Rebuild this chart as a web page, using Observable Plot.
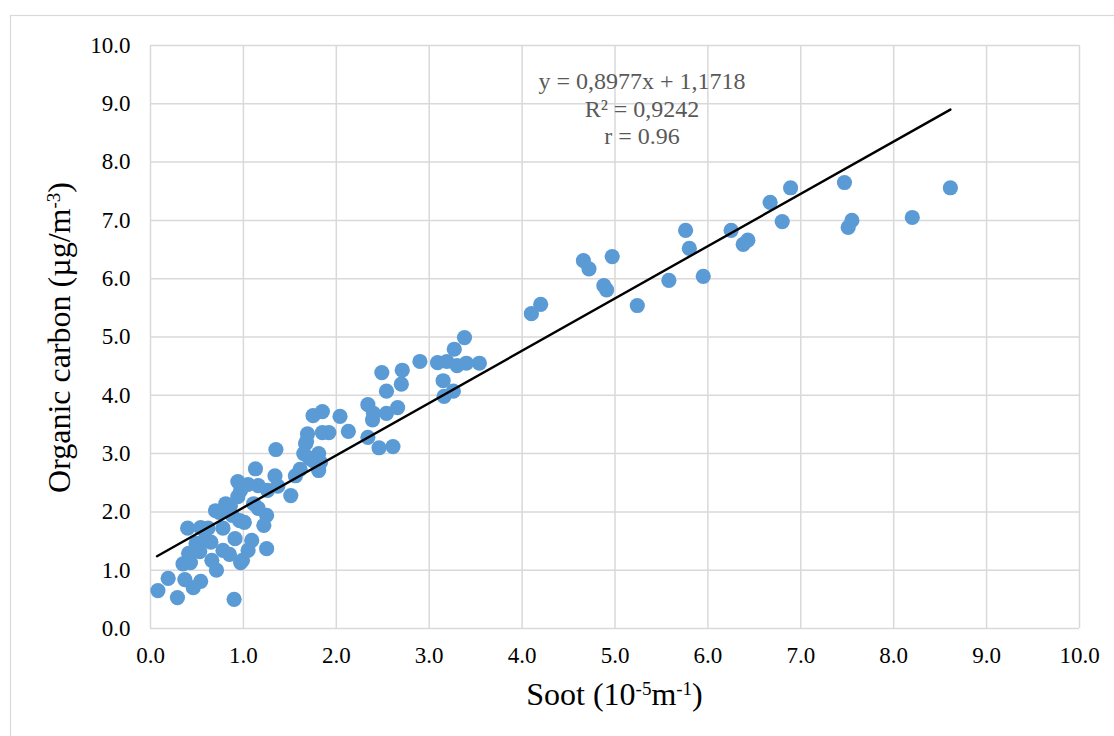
<!DOCTYPE html>
<html>
<head>
<meta charset="utf-8">
<script src="https://cdn.jsdelivr.net/npm/d3@7"></script>
<script src="https://cdn.jsdelivr.net/npm/@observablehq/plot@0.6"></script>
<style>
  html, body { margin: 0; padding: 0; background: #fff; }
</style>
</head>
<body>
<div id="chart"></div>
<script>
// Soot (10^-5 m^-1)
const soot = [
  0.08, 0.19, 0.29, 0.37, 0.46, 0.54, 0.35, 0.41, 0.43, 0.40,
  0.49, 0.53, 0.54, 0.58, 0.62, 0.65, 0.66, 0.71, 0.70, 0.74,
  0.78, 0.81, 0.78, 0.85, 0.90, 0.91, 0.94, 0.94, 0.97, 0.96,
  0.97, 0.99, 1.05, 1.01, 1.05, 1.09, 1.11, 1.13, 1.16, 1.16,
  1.22, 1.25, 1.25, 1.26, 1.34, 1.35, 1.37, 1.51, 1.56, 1.61,
  1.65, 1.67, 1.69, 1.75, 1.85, 1.85, 1.92, 1.81, 1.75, 1.81,
  1.83, 1.71, 1.68, 0.88, 0.86, 2.04, 2.13, 2.34, 2.40, 2.39,
  2.34, 2.46, 2.61, 2.49, 2.54, 2.54, 2.66, 2.70, 2.71, 2.90,
  3.09, 3.19, 3.15, 3.16, 3.26, 3.27, 3.30, 3.38, 3.40, 3.54,
  4.10, 4.20, 4.66, 4.72, 4.88, 4.91, 4.97, 5.24, 5.58, 5.76,
  5.80, 5.95, 6.25, 6.38, 6.43, 6.67, 6.80, 6.89, 7.47, 7.51,
  7.55, 8.20, 8.61
];
// Organic carbon (µg/m^-3)
const organicCarbon = [
  0.65, 0.86, 0.53, 0.84, 0.70, 0.81, 1.11, 1.29, 1.13, 1.72,
  1.46, 1.32, 1.73, 1.51, 1.72, 1.48, 1.17, 1.00, 2.02, 1.99,
  1.72, 2.14, 1.34, 1.27, 0.50, 1.54, 2.52, 2.26, 2.37, 1.85,
  1.13, 1.17, 1.34, 1.82, 2.47, 1.51, 2.14, 2.74, 2.06, 2.45,
  1.77, 1.94, 1.37, 2.37, 2.62, 3.07, 2.44, 2.28, 2.62, 2.73,
  3.00, 3.17, 3.34, 3.65, 3.72, 3.36, 3.36, 3.00, 2.88, 2.71,
  2.85, 2.92, 3.21, 1.94, 2.11, 3.64, 3.38, 3.84, 3.69, 3.58,
  3.28, 3.10, 3.12, 4.39, 4.07, 3.69, 3.79, 4.19, 4.43, 4.58,
  4.56, 4.58, 4.25, 3.98, 4.07, 4.79, 4.51, 4.99, 4.55, 4.55,
  5.40, 5.56, 6.31, 6.17, 5.88, 5.81, 6.38, 5.54, 5.97, 6.83,
  6.52, 6.04, 6.83, 6.59, 6.66, 7.31, 6.98, 7.56, 7.65, 6.88,
  7.00, 7.05, 7.56
];
// Linear trendline end points (x, y)
const trendX = [0.07, 8.61];
const trendY = [1.24, 8.90];
// Axis ticks
const xTicks = [0, 1, 2, 3, 4, 5, 6, 7, 8, 9, 10];
const yTicks = [0, 1, 2, 3, 4, 5, 6, 7, 8, 9, 10];
// Annotation
const annotationLines = ["y = 0,8977x + 1,1718", "R² = 0,9242", "r = 0.96"];

const points = soot.map((x, i) => ({x, y: organicCarbon[i]}));
const trend = trendX.map((x, i) => ({x, y: trendY[i]}));
const fmt = d => d.toFixed(1);
const font = "'Liberation Serif', 'Times New Roman', serif";

const chart = Plot.plot({
  width: 1114,
  height: 736,
  marginLeft: 150,
  marginRight: 35,
  marginTop: 45,
  marginBottom: 108,
  style: {fontFamily: font, fontSize: "23px", background: "#fff", color: "#000"},
  x: {domain: [0, 10], label: null},
  y: {domain: [0, 10], label: null},
  marks: [
    Plot.gridX(xTicks, {stroke: "#d9d9d9", strokeOpacity: 1, strokeWidth: 1.5}),
    Plot.gridY(yTicks, {stroke: "#d9d9d9", strokeOpacity: 1, strokeWidth: 1.5}),
    Plot.axisX(xTicks, {tickSize: 0, tickPadding: 18, tickFormat: fmt, label: null, fontSize: 23, fill: "#000"}),
    Plot.axisY(yTicks, {tickSize: 0, tickPadding: 20, tickFormat: fmt, label: null, fontSize: 23, fill: "#000"}),
    Plot.dot(points, {x: "x", y: "y", r: 7.6, fill: "#5b9bd5", stroke: "none"}),
    Plot.line(trend, {x: "x", y: "y", stroke: "#000", strokeWidth: 2.4}),
    Plot.text([annotationLines.join("\n")], {
      frameAnchor: "top", dx: 27, dy: 24, lineHeight: 1.15,
      fontSize: 24, fill: "#595959", textAnchor: "middle", fontFamily: font
    })
  ]
});

const svg = d3.select(chart);
// Outer chart border
svg.insert("rect", ":first-child")
  .attr("x", 10.5).attr("y", 15.5).attr("width", 1110).attr("height", 740)
  .attr("fill", "none").attr("stroke", "#d9d9d9").attr("stroke-width", 1.2);

// X axis title with superscripts
const xt = svg.append("text")
  .attr("x", 614.5).attr("y", 705)
  .attr("text-anchor", "middle")
  .attr("font-family", font).attr("font-size", 32).attr("fill", "#000");
xt.append("tspan").text("Soot (10");
xt.append("tspan").attr("baseline-shift", "super").attr("font-size", 19).text("-5");
xt.append("tspan").text("m");
xt.append("tspan").attr("baseline-shift", "super").attr("font-size", 19).text("-1");
xt.append("tspan").text(")");

// Y axis title with superscript
const yt = svg.append("text")
  .attr("transform", "translate(70,337.5) rotate(-90)")
  .attr("text-anchor", "middle")
  .attr("font-family", font).attr("font-size", 32).attr("fill", "#000");
yt.append("tspan").text("Organic carbon (µg/m");
yt.append("tspan").attr("baseline-shift", "super").attr("font-size", 19).text("-3");
yt.append("tspan").text(")");

document.getElementById("chart").appendChild(chart);
</script>
</body>
</html>
